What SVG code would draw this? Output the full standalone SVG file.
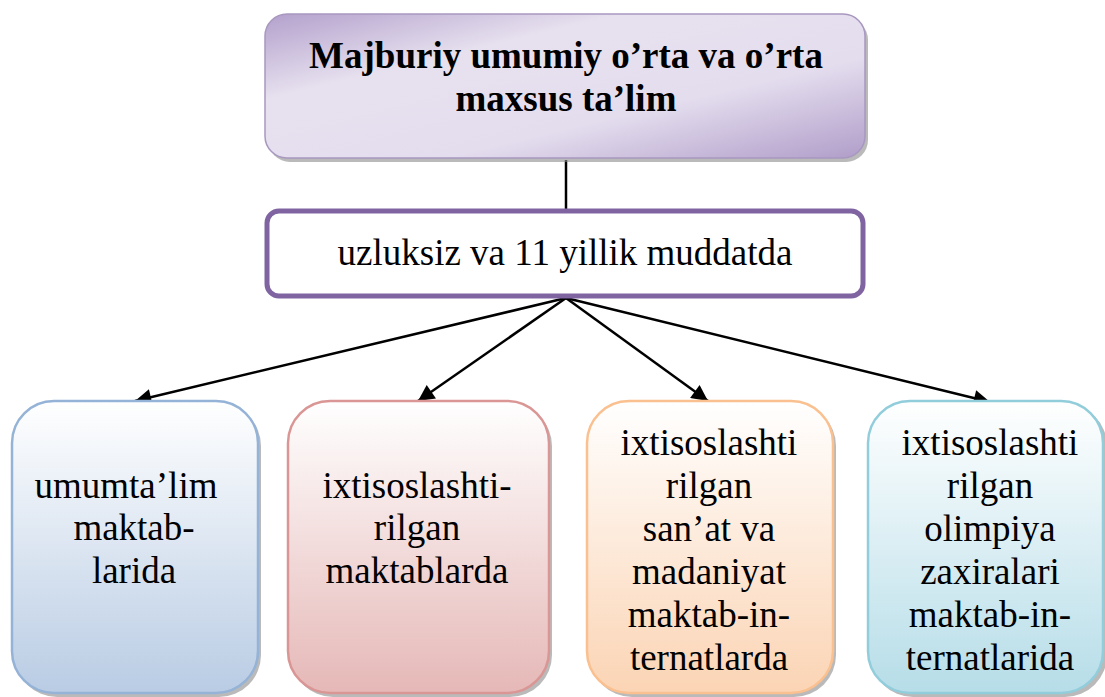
<svg xmlns="http://www.w3.org/2000/svg" width="1105" height="697" viewBox="0 0 1105 697">
<style>
  .t { font-family: "Liberation Serif", "Times New Roman", serif; font-size: 37px; fill: #000; text-anchor: middle; }
  .tb { font-family: "Liberation Serif", "Times New Roman", serif; font-size: 37px; font-weight: bold; fill: #000; text-anchor: middle; }
  .conn { stroke: #000; stroke-width: 2.5; fill: none; }
  .shadow { fill: #8c8c8c; opacity: 0.6; }
</style>
<defs>
  <linearGradient id="gTop" x1="0" y1="0" x2="1" y2="1">
    <stop offset="0" stop-color="#b3a0cc"/>
    <stop offset="0.3" stop-color="#e7e1ef"/>
    <stop offset="0.65" stop-color="#e4ddee"/>
    <stop offset="1" stop-color="#b09dc9"/>
  </linearGradient>
  <linearGradient id="gBlue" x1="0" y1="0" x2="0" y2="1">
    <stop offset="0" stop-color="#ffffff"/>
    <stop offset="1" stop-color="#b9cce4"/>
  </linearGradient>
  <linearGradient id="gRed" x1="0" y1="0" x2="0" y2="1">
    <stop offset="0" stop-color="#ffffff"/>
    <stop offset="1" stop-color="#e5b8b7"/>
  </linearGradient>
  <linearGradient id="gOrange" x1="0" y1="0" x2="0" y2="1">
    <stop offset="0" stop-color="#ffffff"/>
    <stop offset="1" stop-color="#fbd4b4"/>
  </linearGradient>
  <linearGradient id="gTeal" x1="0" y1="0" x2="0" y2="1">
    <stop offset="0" stop-color="#ffffff"/>
    <stop offset="1" stop-color="#b6dde8"/>
  </linearGradient>
  <marker id="arr" viewBox="0 0 10 10" refX="10" refY="5" markerWidth="7.5" markerHeight="6.5" markerUnits="strokeWidth" orient="auto">
    <path d="M0,0 L10,5 L0,10 z" fill="#000"/>
  </marker>
</defs>
<rect width="1105" height="697" fill="#fff"/>

<g id="connectors">
  <line class="conn" x1="566" y1="160" x2="566" y2="210"/>
  <line class="conn" x1="566" y1="298" x2="135" y2="401" marker-end="url(#arr)"/>
  <line class="conn" x1="566" y1="298" x2="418" y2="401" marker-end="url(#arr)"/>
  <line class="conn" x1="566" y1="298" x2="708" y2="401" marker-end="url(#arr)"/>
  <line class="conn" x1="566" y1="298" x2="990" y2="402" marker-end="url(#arr)"/>
</g>

<g id="node-top">
  <rect class="shadow" x="268" y="18" width="600" height="144" rx="22"/>
  <rect x="265" y="14" width="600" height="144" rx="22" fill="url(#gTop)" stroke="#a898c0" stroke-width="1.5"/>
  <text class="tb" x="566" y="68">Majburiy umumiy o’rta va o’rta</text>
  <text class="tb" x="566" y="111">maxsus ta’lim</text>
</g>

<g id="node-mid">
  <rect x="267" y="211" width="596" height="85" rx="12" fill="#fff" stroke="#8064a2" stroke-width="5"/>
  <text class="t" x="565" y="265">uzluksiz va 11 yillik muddatda</text>
</g>

<g id="node-1">
  <rect class="shadow" x="15" y="404" width="246" height="293" rx="42"/>
  <rect x="12" y="401" width="246" height="292" rx="42" fill="url(#gBlue)" stroke="#95b3d7" stroke-width="2.5"/>
  <text class="t" x="126" y="498">umumta’lim</text>
  <text class="t" x="134" y="540">maktab-</text>
  <text class="t" x="134" y="583">larida</text>
</g>

<g id="node-2">
  <rect class="shadow" x="291" y="404" width="261" height="293" rx="42"/>
  <rect x="288" y="401" width="261" height="292" rx="42" fill="url(#gRed)" stroke="#d99694" stroke-width="2.5"/>
  <text class="t" x="417" y="498">ixtisoslashti-</text>
  <text class="t" x="417" y="540">rilgan</text>
  <text class="t" x="417" y="583">maktablarda</text>
</g>

<g id="node-3">
  <rect class="shadow" x="590" y="404" width="246" height="293" rx="42"/>
  <rect x="587" y="401" width="246" height="292" rx="42" fill="url(#gOrange)" stroke="#fac08f" stroke-width="2.5"/>
  <text class="t" x="709" y="455">ixtisoslashti</text>
  <text class="t" x="709" y="498">rilgan</text>
  <text class="t" x="709" y="541">san’at va</text>
  <text class="t" x="709" y="584">madaniyat</text>
  <text class="t" x="709" y="627">maktab-in-</text>
  <text class="t" x="709" y="670">ternatlarda</text>
</g>

<g id="node-4">
  <rect class="shadow" x="871" y="404" width="236" height="293" rx="42"/>
  <rect x="868" y="401" width="235" height="292" rx="42" fill="url(#gTeal)" stroke="#92cddc" stroke-width="2.5"/>
  <text class="t" x="990" y="455">ixtisoslashti</text>
  <text class="t" x="990" y="498">rilgan</text>
  <text class="t" x="990" y="541">olimpiya</text>
  <text class="t" x="990" y="584">zaxiralari</text>
  <text class="t" x="990" y="627">maktab-in-</text>
  <text class="t" x="990" y="670">ternatlarida</text>
</g>
</svg>
